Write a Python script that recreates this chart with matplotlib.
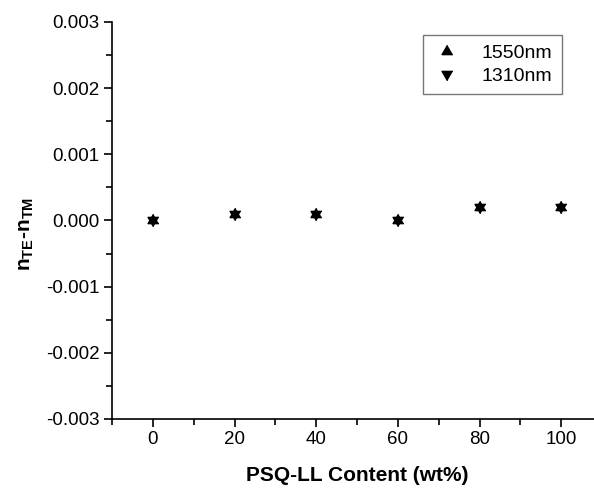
import matplotlib
matplotlib.use("Agg")
import matplotlib.pyplot as plt
from matplotlib.ticker import MultipleLocator, FormatStrFormatter

plt.rcParams['font.family'] = ['Liberation Sans', 'DejaVu Sans']
plt.rcParams['mathtext.fontset'] = 'custom'
plt.rcParams['mathtext.rm'] = 'Liberation Sans'
plt.rcParams['mathtext.bf'] = 'Liberation Sans:bold'

# PSQ-LL content (wt%) and birefringence at two wavelengths
content = [0, 20, 40, 60, 80, 100]
biref_1550 = [0.0, 0.0001, 0.0001, 0.0, 0.0002, 0.0002]
biref_1310 = [0.0, 0.0001, 0.0001, 0.0, 0.0002, 0.0002]
series_labels = ['1550nm', '1310nm']

# triangles centred on their centroid so the two overlap as a star
tri_up = [(0, 1), (-0.866, -0.5), (0.866, -0.5)]
tri_down = [(0, -1), (-0.866, 0.5), (0.866, 0.5)]

fig = plt.figure(figsize=(5.94, 4.88), dpi=100)
ax = fig.add_axes([0.1886, 0.1414, 0.8114, 0.8136])

ax.plot(content, biref_1550, linestyle='none', marker=tri_up, color='black',
        markersize=9, label=series_labels[0])
ax.plot(content, biref_1310, linestyle='none', marker=tri_down, color='black',
        markersize=9, label=series_labels[1])

ax.set_xlim(-10, 108)
ax.set_ylim(-0.003, 0.003)
ax.xaxis.set_major_locator(MultipleLocator(20))
ax.xaxis.set_minor_locator(MultipleLocator(10))
ax.yaxis.set_major_locator(MultipleLocator(0.001))
ax.yaxis.set_minor_locator(MultipleLocator(0.0005))
ax.yaxis.set_major_formatter(FormatStrFormatter('%.3f'))

ax.spines['top'].set_visible(False)
ax.spines['right'].set_visible(False)
for s in ('left', 'bottom'):
    ax.spines[s].set_linewidth(1.2)
ax.tick_params(which='major', direction='out', length=6, width=1.2,
               labelsize=13.5, pad=3)
ax.tick_params(which='minor', direction='out', length=4, width=1.2)

ax.set_xlabel('PSQ-LL Content (wt%)', fontsize=15, fontweight='bold')
ax.xaxis.set_label_coords((357 - 112) / 482, -(466 - 419) / 397)
ax.set_ylabel(r'$\mathbf{n_{TE}}$-$\mathbf{n_{TM}}$', fontsize=15,
              fontweight='bold')
ax.yaxis.set_label_coords(-(112 - 36) / 482, (419 - 234) / 397)

leg = ax.legend(loc='upper left', bbox_to_anchor=((423 - 112) / 482, (419 - 35) / 397),
                fontsize=14, frameon=True, fancybox=False, handletextpad=1.0,
                borderpad=0.5, labelspacing=0.25, handlelength=1.5,
                borderaxespad=0)
leg.get_frame().set_edgecolor('#555555')
leg.get_frame().set_linewidth(1.0)

fig.savefig('out.png', dpi=100)
